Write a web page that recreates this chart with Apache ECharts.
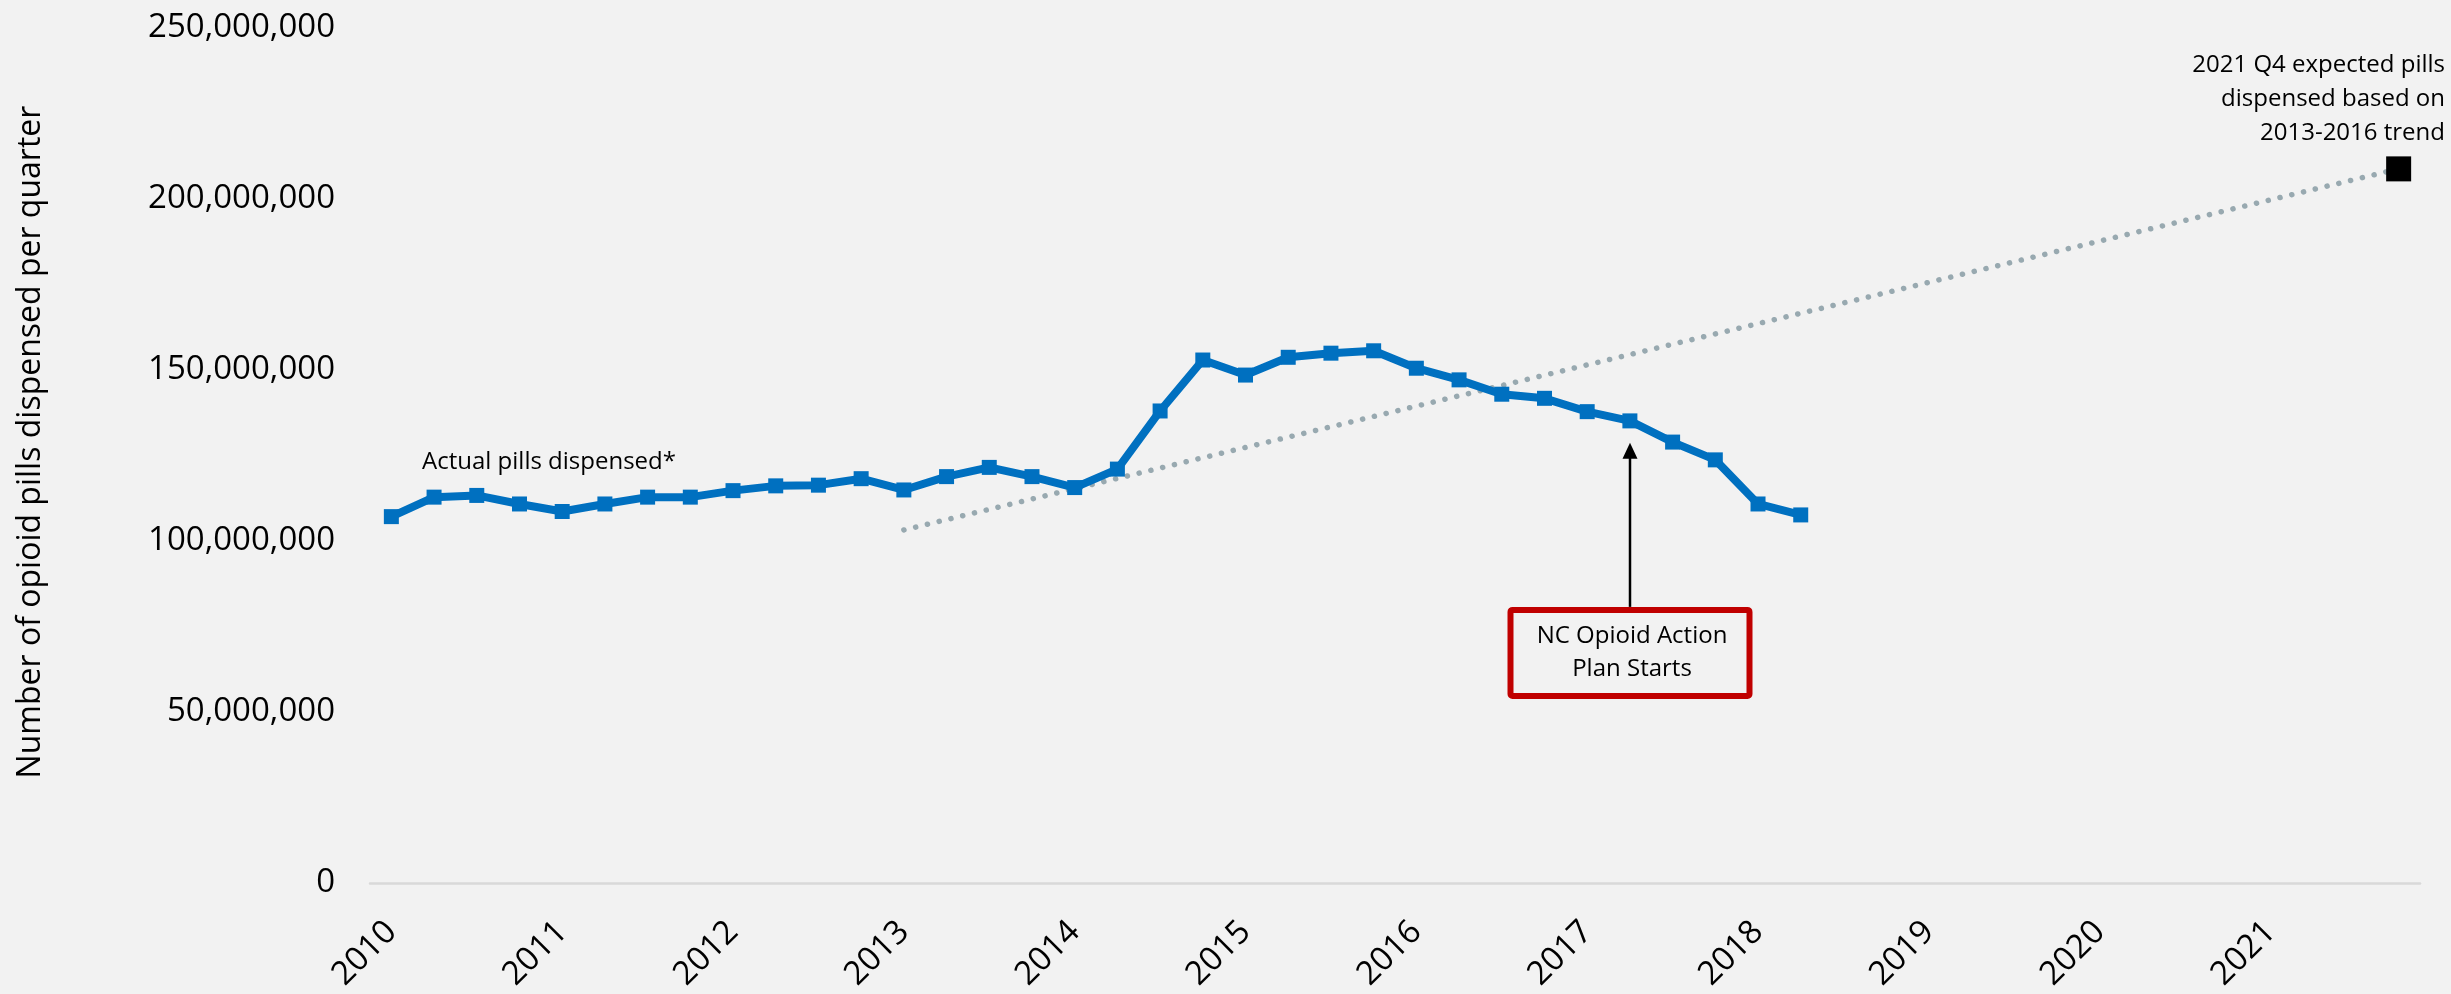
<!DOCTYPE html>
<html>
<head>
<meta charset="utf-8">
<script src="https://cdn.jsdelivr.net/npm/echarts@6/dist/echarts.min.js"></script>
<style>
  html, body { margin: 0; padding: 0; background: #f2f2f2; }
  #chart { width: 2451px; height: 994px; }
</style>
</head>
<body>
<div id="chart"></div>
<script>
// category axis: every quarter 2010 Q1 .. 2021 Q4, labelled by year
var years = ['2010', '2011', '2012', '2013', '2014', '2015', '2016', '2017', '2018', '2019', '2020', '2021'];
var quarterNames = ['Q1', 'Q2', 'Q3', 'Q4'];
var quarters = [];
years.forEach(function (y) {
    quarterNames.forEach(function (q) { quarters.push(y + ' ' + q); });
});

// actual pills dispensed, 2010 Q1 .. 2018 Q2
var actualPills = [
    107100000, 112800000, 113300000, 110800000,
    108600000, 110800000, 112800000, 112800000,
    114700000, 116100000, 116300000, 118200000,
    114900000, 118800000, 121500000, 118800000,
    115600000, 121000000, 138000000, 152900000,
    148500000, 153700000, 154900000, 155600000,
    150500000, 147100000, 142900000, 141700000,
    137800000, 135100000, 128900000, 123700000,
    110800000, 107600000
];

// 2013-2016 trend line, drawn between its two ends
var trendQuarters = ['2013 Q1', '2021 Q4'];
var trendValues = [103200000, 208800000];

// expected value for 2021 Q4
var expectedQuarter = '2021 Q4';
var expectedValue = 208800000;

// y ticks
var yMin = 0, yMax = 250000000, yStep = 50000000;

// where the action plan starts (arrow + box)
var planQuarter = '2017 Q2';

var FONT = "'Open Sans', 'Noto Sans', sans-serif";

var chart = echarts.init(document.getElementById('chart'));

var option = {
    animation: false,
    backgroundColor: '#f2f2f2',
    grid: {
        left: 370,
        right: 31,
        top: 28,
        bottom: 111,
        containLabel: false
    },
    xAxis: {
        type: 'category',
        data: quarters,
        boundaryGap: true,
        axisLine: {
            show: true,
            lineStyle: { color: '#d9d9d9', width: 2.5 }
        },
        axisTick: { show: false },
        splitLine: { show: false },
        axisLabel: {
            interval: 3,
            rotate: 45,
            margin: 44,
            color: '#000',
            fontFamily: FONT,
            fontSize: 33,
            formatter: function (v) { return v.slice(0, 4); }
        }
    },
    yAxis: {
        type: 'value',
        min: yMin,
        max: yMax,
        interval: yStep,
        axisLine: { show: false },
        axisTick: { show: false },
        splitLine: { show: false },
        axisLabel: {
            margin: 35,
            color: '#000',
            fontFamily: FONT,
            fontSize: 33,
            formatter: function (v) { return v.toLocaleString('en-US'); }
        }
    },
    series: [
        {
            name: 'Trend',
            type: 'line',
            data: trendQuarters.map(function (q, i) { return [q, trendValues[i]]; }),
            symbol: 'none',
            lineStyle: {
                color: '#98a9b0',
                width: 5.5,
                type: [0.1, 12],
                cap: 'round'
            },
            z: 1
        },
        {
            name: 'Actual pills dispensed',
            type: 'line',
            data: actualPills,
            symbol: 'rect',
            symbolSize: 15,
            lineStyle: { color: '#0070c0', width: 8 },
            itemStyle: { color: '#0070c0' },
            z: 2
        },
        {
            name: 'Expected',
            type: 'scatter',
            data: [[expectedQuarter, expectedValue]],
            symbol: 'rect',
            symbolSize: 25,
            itemStyle: { color: '#000', opacity: 1 },
            z: 3
        }
    ]
};

chart.setOption(option);

// annotations
var arrowTop = chart.convertToPixel({ gridIndex: 0 }, [planQuarter, 128700000]);
var boxTop = chart.convertToPixel({ gridIndex: 0 }, [planQuarter, 80700000]);
var ax = Math.round(arrowTop[0]);
var boxW = 245, boxH = 92;

chart.setOption({
    graphic: [
        {
            type: 'text',
            x: 31, y: 442,
            rotation: Math.PI / 2,
            style: {
                text: 'Number of opioid pills dispensed per quarter',
                font: '32px ' + FONT,
                fill: '#000',
                align: 'center',
                verticalAlign: 'middle'
            }
        },
        {
            type: 'text',
            x: 422, y: 462,
            style: {
                text: 'Actual pills dispensed*',
                font: '24px ' + FONT,
                fill: '#000',
                align: 'left',
                verticalAlign: 'middle'
            }
        },
        {
            type: 'text',
            x: 2445, y: 48,
            style: {
                text: '2021 Q4 expected pills\ndispensed based on\n2013-2016 trend',
                font: '24px ' + FONT,
                lineHeight: 34,
                fill: '#000',
                align: 'right',
                verticalAlign: 'top'
            }
        },
        {
            type: 'line',
            shape: { x1: ax, y1: boxTop[1], x2: ax, y2: arrowTop[1] + 14 },
            style: { stroke: '#000', lineWidth: 2.5 }
        },
        {
            type: 'polygon',
            shape: {
                points: [[ax, arrowTop[1]], [ax - 7.5, arrowTop[1] + 16], [ax + 7.5, arrowTop[1] + 16]]
            },
            style: { fill: '#000' }
        },
        {
            type: 'rect',
            shape: { x: ax - boxW / 2 + 3, y: boxTop[1] + 3, width: boxW - 6, height: boxH - 6, r: 2 },
            style: { fill: 'none', stroke: '#c00000', lineWidth: 6 }
        },
        {
            type: 'text',
            x: ax + 2, y: boxTop[1] + boxH / 2,
            style: {
                text: 'NC Opioid Action\nPlan Starts',
                font: '24px ' + FONT,
                lineHeight: 33,
                fill: '#000',
                align: 'center',
                verticalAlign: 'middle'
            }
        }
    ]
});
</script>
</body>
</html>
